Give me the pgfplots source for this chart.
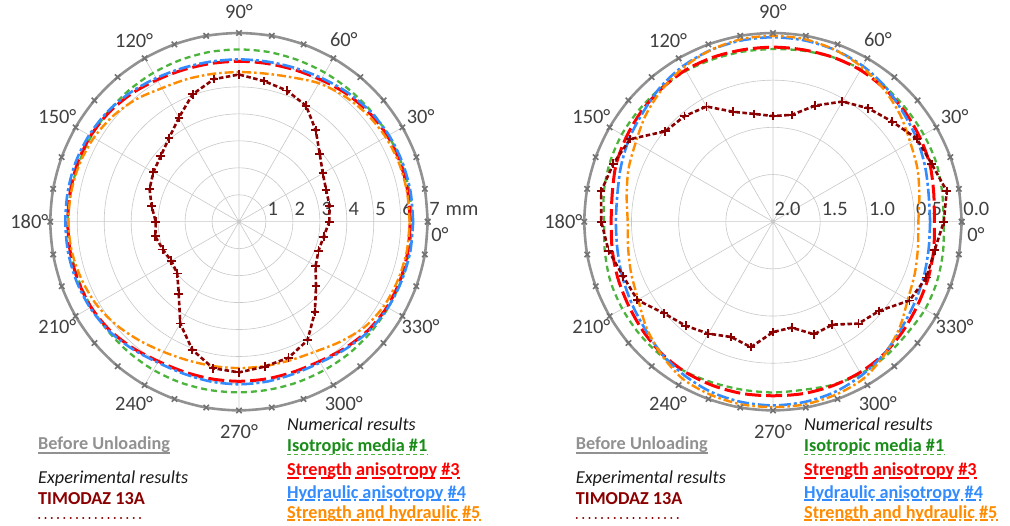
\documentclass[border=0pt]{standalone}
\usepackage{fontspec}
\setmainfont{Carlito}
\usepackage{pgfplots}
\pgfplotsset{compat=1.18}
\usepackage{pgfplotstable}
\usepgfplotslibrary{polar}

\definecolor{cgray}{RGB}{145,145,145}
\definecolor{cmark}{RGB}{115,115,115}
\definecolor{cgreen}{RGB}{76,180,60}
\definecolor{cgreentxt}{RGB}{25,140,25}
\definecolor{cred}{RGB}{255,0,0}
\definecolor{cblue}{RGB}{51,140,255}
\definecolor{corange}{RGB}{255,140,0}
\definecolor{cdred}{RGB}{139,0,0}
\definecolor{cgrid}{RGB}{200,200,200}
\definecolor{ctick}{RGB}{64,64,64}
\definecolor{ctxt}{RGB}{26,26,26}

% angle, before unloading, isotropic #1, strength #3, hydraulic #4, strength+hydraulic #5, TIMODAZ 13A  (mm)
\pgfplotstableread{
a u g r b o e
0 7 6.42 6.35 6.46 6.33 3.35
10 7 6.42 6.36 6.46 6.33 3.41
20 7 6.41 6.37 6.45 6.32 3.44
30 7 6.40 6.36 6.42 6.28 3.59
40 7 6.39 6.30 6.36 6.20 3.91
50 7 6.38 6.20 6.26 6.08 4.43
60 7 6.38 6.08 6.15 5.93 4.97
70 7 6.38 6.00 6.07 5.70 5.18
80 7 6.39 5.96 6.03 5.58 5.30
90 7 6.39 5.95 6.02 5.55 5.46
100 7 6.39 5.96 6.03 5.57 5.37
110 7 6.38 6.00 6.07 5.63 5.03
120 7 6.37 6.08 6.15 5.72 4.46
130 7 6.36 6.20 6.26 5.93 4.04
140 7 6.34 6.30 6.36 6.10 3.79
150 7 6.33 6.36 6.42 6.22 3.67
160 7 6.33 6.37 6.45 6.29 3.53
170 7 6.34 6.36 6.45 6.32 3.29
180 7 6.36 6.35 6.44 6.33 3.09
190 7 6.34 6.36 6.44 6.30 3.15
200 7 6.33 6.36 6.42 6.22 3.01
210 7 6.33 6.34 6.38 6.12 2.90
220 7 6.33 6.26 6.30 5.95 2.99
230 7 6.34 6.12 6.16 5.75 3.48
240 7 6.35 5.98 6.03 5.58 4.36
250 7 6.35 5.93 6.00 5.48 5.06
260 7 6.34 5.92 6.02 5.44 5.52
270 7 6.33 5.92 6.03 5.43 5.59
280 7 6.33 5.92 6.02 5.44 5.46
290 7 6.34 5.93 6.00 5.48 5.37
300 7 6.35 5.98 6.03 5.58 5.08
310 7 6.37 6.12 6.16 5.82 4.38
320 7 6.38 6.26 6.30 6.08 3.73
330 7 6.39 6.34 6.38 6.22 3.28
340 7 6.40 6.36 6.42 6.28 3.14
350 7 6.41 6.36 6.45 6.32 3.19
360 7 6.42 6.35 6.46 6.33 3.35
}\tabL

% right chart: values in mm (0.0 on the outer ring, 2.0 at the centre)
\pgfplotstableread{
a u g r b o e
0 0 0.19 0.29 0.335 0.46 0.19
10 0 0.18 0.27 0.325 0.425 0.13
20 0 0.16 0.23 0.285 0.37 0.21
30 0 0.155 0.205 0.24 0.32 0.24
40 0 0.15 0.18 0.20 0.24 0.35
50 0 0.14 0.16 0.14 0.17 0.43
60 0 0.135 0.145 0.095 0.11 0.53
70 0 0.145 0.145 0.065 0.065 0.69
80 0 0.16 0.15 0.05 0.037 0.85
90 0 0.17 0.15 0.045 0.03 0.88
100 0 0.17 0.15 0.05 0.037 0.84
110 0 0.165 0.145 0.065 0.065 0.76
120 0 0.155 0.145 0.095 0.11 0.59
130 0 0.15 0.16 0.14 0.17 0.54
140 0 0.15 0.18 0.20 0.24 0.51
150 0 0.15 0.205 0.24 0.32 0.25
160 0 0.16 0.23 0.285 0.37 0.20
170 0 0.18 0.27 0.325 0.425 0.15
180 0 0.21 0.285 0.335 0.46 0.18
190 0 0.19 0.27 0.325 0.44 0.23
200 0 0.165 0.25 0.30 0.40 0.31
210 0 0.155 0.23 0.27 0.35 0.34
220 0 0.15 0.20 0.23 0.25 0.49
230 0 0.15 0.17 0.17 0.16 0.56
240 0 0.16 0.155 0.12 0.08 0.63
250 0 0.18 0.15 0.08 0.05 0.70
260 0 0.19 0.15 0.06 0.035 0.65
270 0 0.19 0.155 0.053 0.035 0.83
280 0 0.19 0.15 0.06 0.035 0.86
290 0 0.16 0.15 0.08 0.05 0.73
300 0 0.14 0.155 0.12 0.08 0.74
310 0 0.14 0.17 0.17 0.16 0.59
320 0 0.15 0.20 0.23 0.25 0.53
330 0 0.14 0.23 0.27 0.35 0.33
340 0 0.15 0.25 0.30 0.40 0.27
350 0 0.17 0.27 0.325 0.44 0.26
360 0 0.19 0.29 0.335 0.46 0.19
}\tabR

\newcommand{\tf}{\fontsize{20.5}{24}\selectfont}
\newcommand{\lf}{\fontsize{18.3}{21.6}\selectfont}

\pgfplotsset{
  mypolar/.style={
    scale only axis, width=377.4bp, height=377.4bp,
    clip=false,
    xmin=0, xmax=360,
    xtick={0,30,...,330},
    xticklabels={,30°,60°,90°,120°,150°,180°,210°,240°,270°,300°,330°},
    grid=major,
    major grid style={cgrid, line width=0.6bp},
    axis line style={draw=none},
    major tick length=0pt,
    ticklabel style={font=\tf, text=ctick},
    xticklabel style={anchor=center, shift={(\tick:21bp)}},
    yticklabel style={anchor=base west, inner sep=0pt, xshift=1.5bp, yshift=6bp},
  },
  sgray/.style={cgray, line width=2.6bp, smooth, mark=x, mark size=3.8bp, mark options={cmark, line width=1.6bp, solid}},
  sgreen/.style={cgreen, line width=2.3bp, dash pattern=on 6bp off 4bp, no markers, smooth},
  sred/.style={cred, line width=3bp, dash pattern=on 16bp off 5bp, no markers, smooth},
  sblue/.style={cblue, line width=2.6bp, dash pattern=on 12bp off 3bp on 3bp off 3bp, no markers, smooth},
  sorange/.style={corange, line width=2.4bp, dash pattern=on 9bp off 3bp on 2.5bp off 3bp, no markers, smooth},
  sdred/.style={cdred, line width=2.6bp, dash pattern=on 4.5bp off 2.5bp, mark=+, mark size=4.3bp, mark options={line width=1.9bp, solid}},
}

\begin{document}
\begin{tikzpicture}
\path[use as bounding box] (0bp,0bp) rectangle (1010bp,526bp);

% ---------- left chart ----------
\begin{polaraxis}[mypolar, at={(239bp,304.3bp)}, anchor=origin,
  ymin=0, ymax=7, ytick={1,2,3,4,5,6,7},
  yticklabels={1,2,3,4,5,6,7\hspace{6bp}mm}]
\addplot[sgray] table[x=a, y=u] {\tabL};
\addplot[sgreen] table[x=a, y=g] {\tabL};
\addplot[sred] table[x=a, y=r] {\tabL};
\addplot[sblue] table[x=a, y=b] {\tabL};
\addplot[sorange] table[x=a, y=o] {\tabL};
\addplot[sdred] table[x=a, y=e] {\tabL};
\node[font=\tf, text=ctick] at (axis cs:-3.7,7.47) {0°};
\end{polaraxis}

% ---------- right chart ----------
\begin{polaraxis}[mypolar, at={(773bp,304.3bp)}, anchor=origin,
  ymin=0, ymax=2, ytick={0,0.5,1,1.5,2},
  yticklabels={2.0,1.5,1.0,0.5,0.0}]
\addplot[sgray] table[x=a, y expr=2-\thisrow{u}] {\tabR};
\addplot[sgreen] table[x=a, y expr=2-\thisrow{g}] {\tabR};
\addplot[sred] table[x=a, y expr=2-\thisrow{r}] {\tabR};
\addplot[sblue] table[x=a, y expr=2-\thisrow{b}] {\tabR};
\addplot[sorange] table[x=a, y expr=2-\thisrow{o}] {\tabR};
\addplot[sdred] table[x=a, y expr=2-\thisrow{e}] {\tabR};
\node[font=\tf, text=ctick] at (axis cs:-3.6,2.156) {0°};
\end{polaraxis}

% ---------- legends ----------
\foreach \dx/\nx in {0/0, 537.7/517} {
  \begin{scope}[xshift=\dx bp]
  \node[anchor=base west, inner sep=0pt, font=\lf\bfseries, text=cgray] (bu) at (38bp,76bp) {Before Unloading};
  \draw[cgray, line width=2bp] ([yshift=-3.3bp]bu.base west) -- ([yshift=-3.3bp]bu.base east);
  \node[anchor=base west, inner sep=0pt, font=\lf\itshape, text=ctxt] at (38bp,42.7bp) {Experimental results};
  \node[anchor=base west, inner sep=0pt, font=\lf\bfseries, text=cdred] (tm) at (38bp,21.3bp) {TIMODAZ 13A};
  \draw[cdred, line width=1.9bp, line cap=round, dash pattern=on 0.3bp off 6bp] ([yshift=-13bp,xshift=1bp]tm.base west) -- ([yshift=-13bp]tm.base east);
  \end{scope}
  \begin{scope}[xshift=\nx bp]
  \node[anchor=base west, inner sep=0pt, font=\lf\itshape, text=ctxt] at (287bp,95bp) {Numerical results};
  \node[anchor=base west, inner sep=0pt, font=\lf\bfseries, text=cgreentxt] (g) at (287bp,74.3bp) {Isotropic media \#1};
  \draw[cgreen, line width=1.3bp, dash pattern=on 4bp off 3bp] ([yshift=-2.6bp]g.base west) -- ([yshift=-2.6bp]g.base east);
  \node[anchor=base west, inner sep=0pt, font=\lf\bfseries, text=cred] (r) at (287bp,50bp) {Strength anisotropy \#3};
  \draw[cred, line width=1.5bp, dash pattern=on 12bp off 5bp] ([yshift=-2bp]r.base west) -- ([yshift=-2bp]r.base east);
  \node[anchor=base west, inner sep=0pt, font=\lf\bfseries, text=cblue] (b) at (287bp,28bp) {Hydraulic anisotropy \#4};
  \draw[cblue, line width=1.5bp, dash pattern=on 10bp off 3bp on 2bp off 3bp] ([yshift=-2bp]b.base west) -- ([yshift=-2bp]b.base east);
  \node[anchor=base west, inner sep=0pt, font=\lf\bfseries, text=corange] (o) at (287bp,7.3bp) {Strength and hydraulic \#5};
  \draw[corange, line width=1.5bp, dash pattern=on 8bp off 3bp on 2bp off 3bp] ([yshift=-1.5bp]o.base west) -- ([yshift=-1.5bp]o.base east);
  \end{scope}
}
\end{tikzpicture}
\end{document}
